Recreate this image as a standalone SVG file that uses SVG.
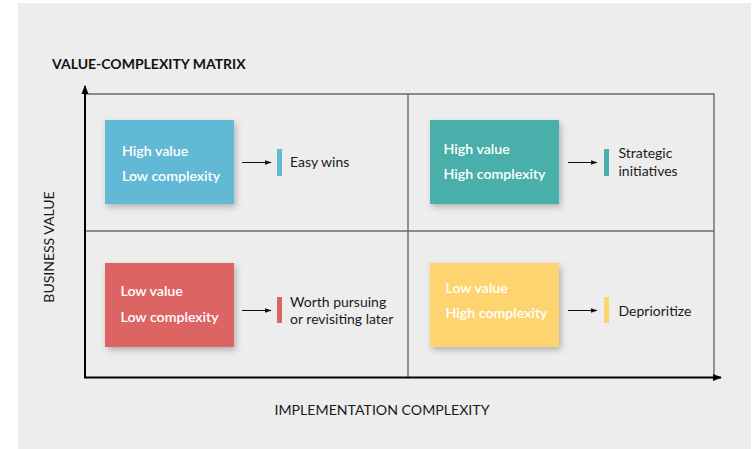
<svg xmlns="http://www.w3.org/2000/svg" width="756" height="449" viewBox="0 0 756 449">
<defs>
<style>
.lbl{font-family:Lato,"Liberation Sans",sans-serif;font-size:14px;fill:#1a1a1a}
.axis{font-family:Lato,"Liberation Sans",sans-serif;font-size:14px;fill:#1a1a1a}
.title{font-family:Lato,"Liberation Sans",sans-serif;font-size:14px;font-weight:bold;fill:#111}
.bt{font-family:Lato,"Liberation Sans",sans-serif;font-size:14.2px;font-weight:600;fill:#fff}
.grid{stroke:#6a6a6a;stroke-width:1.4;fill:none}
.ax{stroke:#000;stroke-width:2;fill:none}
.con{stroke:#111;stroke-width:1;fill:none}
.box{filter:url(#sh)}
</style>
<filter id="sh" x="-20%" y="-20%" width="150%" height="160%">
<feDropShadow dx="2" dy="3" stdDeviation="3" flood-color="#000" flood-opacity="0.25"/>
</filter>
<marker id="ah" viewBox="0 0 10 10" refX="9" refY="5" markerWidth="7" markerHeight="7" markerUnits="userSpaceOnUse" orient="auto">
<path d="M0,1.5 L10,5 L0,8.5 Z" fill="#111"/>
</marker>
<marker id="axh" viewBox="0 0 10 10" refX="9" refY="5" markerWidth="9" markerHeight="9" markerUnits="userSpaceOnUse" orient="auto">
<path d="M0,1 L10,5 L0,9 Z" fill="#000"/>
</marker>
</defs>
<rect x="0" y="0" width="756" height="449" fill="#fff"/>
<rect x="18" y="3" width="733" height="446" fill="#ededed"/>
<text class="title" x="52" y="69">VALUE-COMPLEXITY MATRIX</text>
<g id="grid">
<path class="grid" d="M86,94 H714 V377"/>
<path class="grid" d="M408,94 V377"/>
<path class="grid" d="M86,231 H714"/>
</g>
<g id="axes">
<path class="ax" d="M85,378 V86" marker-end="url(#axh)"/>
<path class="ax" d="M84,377.5 H721" marker-end="url(#axh)"/>
</g>
<text class="axis" x="382" y="414.5" text-anchor="middle" textLength="215" lengthAdjust="spacingAndGlyphs">IMPLEMENTATION COMPLEXITY</text>
<text class="axis" transform="translate(54,247) rotate(-90)" text-anchor="middle">BUSINESS VALUE</text>
<g id="node-easy">
<rect class="box" x="105" y="120" width="129" height="84" fill="#62b9d6"/>
<text class="bt" x="122" y="156">High value</text>
<text class="bt" x="122" y="181">Low complexity</text>
<rect x="277" y="149" width="5" height="27" fill="#62b9d6"/>
<text class="lbl" x="290" y="167">Easy wins</text>
</g>
<g id="node-strategic">
<rect class="box" x="430" y="120" width="129" height="84" fill="#4aafaa"/>
<text class="bt" x="443.5" y="154">High value</text>
<text class="bt" x="443.5" y="179">High complexity</text>
<rect x="604" y="149" width="5" height="27" fill="#4aafaa"/>
<text class="lbl" x="618.5" y="158">Strategic</text>
<text class="lbl" x="618.5" y="175.5">initiatives</text>
</g>
<g id="node-worth">
<rect class="box" x="105" y="263" width="129" height="84" fill="#dc6563"/>
<text class="bt" x="120.5" y="296">Low value</text>
<text class="bt" x="120.5" y="321.5">Low complexity</text>
<rect x="277" y="297" width="5" height="26" fill="#dc6563"/>
<text class="lbl" x="290" y="306.5">Worth pursuing</text>
<text class="lbl" x="290" y="324">or revisiting later</text>
</g>
<g id="node-depri">
<rect class="box" x="430" y="263" width="129" height="84" fill="#fed471"/>
<text class="bt" x="445.5" y="292.5">Low value</text>
<text class="bt" x="445.5" y="317.5">High complexity</text>
<rect x="604" y="297" width="5" height="26" fill="#fed471"/>
<text class="lbl" x="618.5" y="315.5">Deprioritize</text>
</g>
<g id="connectors">
<path class="con" d="M242,162.5 H271" marker-end="url(#ah)"/>
<path class="con" d="M568,162.5 H597" marker-end="url(#ah)"/>
<path class="con" d="M242,310.5 H271" marker-end="url(#ah)"/>
<path class="con" d="M568,310.5 H597" marker-end="url(#ah)"/>
</g>
</svg>
